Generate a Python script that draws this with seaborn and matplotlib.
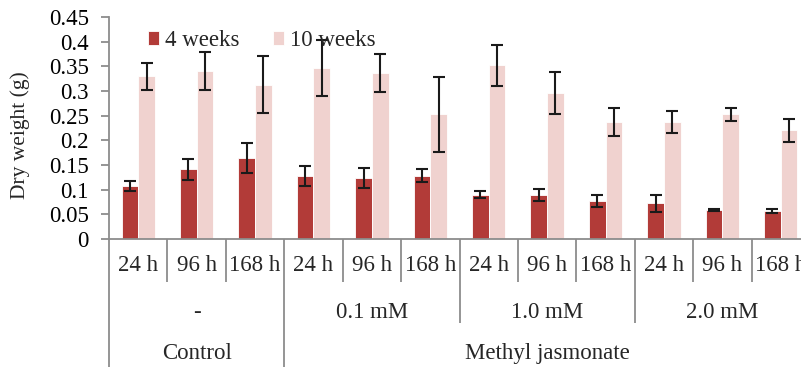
import matplotlib
matplotlib.use("Agg")
import matplotlib.pyplot as plt
import matplotlib.transforms as mtransforms
import seaborn as sns
import pandas as pd
import numpy as np

# ---- data ----
times = ["24 h", "96 h", "168 h"] * 4
concentrations = ["-", "0.1 mM", "1.0 mM", "2.0 mM"]
treatments = ["Control", "Methyl jasmonate"]
treatment_span = [1, 3]  # number of concentration groups per treatment
series = ["4 weeks", "10 weeks"]
weeks4 = [0.108, 0.141, 0.164, 0.127, 0.124, 0.128, 0.090, 0.090, 0.077, 0.072, 0.059, 0.056]
weeks4_err = [0.010, 0.021, 0.031, 0.020, 0.020, 0.013, 0.0065, 0.012, 0.012, 0.018, 0.002, 0.004]
weeks10 = [0.330, 0.341, 0.313, 0.347, 0.337, 0.253, 0.352, 0.296, 0.237, 0.237, 0.253, 0.220]
weeks10_err = [0.027, 0.039, 0.057, 0.057, 0.039, 0.076, 0.041, 0.042, 0.029, 0.022, 0.013, 0.024]
yticks = [0, 0.05, 0.1, 0.15, 0.2, 0.25, 0.3, 0.35, 0.4, 0.45]
ytick_labels = ["0", "0.05", "0.1", "0.15", "0.2", "0.25", "0.3", "0.35", "0.4", "0.45"]

colors = ["#B23B38", "#F0D2CF"]
FS = 16.5

sns.set_theme(style="white")
plt.rcParams["font.family"] = ["Liberation Serif", "DejaVu Serif"]

n = len(times)
cats = [f"c{i}" for i in range(n)]
df = pd.DataFrame({
    "cat": cats * 2,
    "series": [series[0]] * n + [series[1]] * n,
    "value": weeks4 + weeks10,
    "err": weeks4_err + weeks10_err,
})

fig = plt.figure(figsize=(8.01, 3.67), dpi=100)
W, H = 801, 367
ax = fig.add_axes([109 / W, (H - 239) / H, (810 - 109) / W, (239 - 17) / H])

sns.barplot(data=df, x="cat", y="value", hue="series", order=cats,
            hue_order=series, palette=colors, width=0.57, errorbar=None,
            edgecolor="white", linewidth=0.6, ax=ax, saturation=1)

# error bars from bar geometry
for cont, s in zip(ax.containers, series):
    sub = df[df["series"] == s]
    xs = [p.get_x() + p.get_width() / 2 for p in cont.patches]
    ax.errorbar(xs, sub["value"].values, yerr=sub["err"].values, fmt="none",
                ecolor="#1a1a1a", elinewidth=1.5, capsize=4.5, capthick=1.5, zorder=5)

ax.set_ylim(0, 0.45)
ax.set_xlim(-0.5, n - 0.5)
ax.set_yticks(yticks)
ax.set_yticklabels(ytick_labels, fontsize=FS)
ax.set_ylabel("Dry weight (g)", fontsize=15.5)
ax.yaxis.set_label_coords(-0.112, 0.47)
ax.set_xlabel("")
ax.set_xticks([])

for side in ["top", "right"]:
    ax.spines[side].set_visible(False)
for side in ["left", "bottom"]:
    ax.spines[side].set_color("#8c8c8c")
    ax.spines[side].set_linewidth(1.3)
ax.tick_params(axis="y", which="both", left=True, length=6, width=1.3,
               color="#8c8c8c", pad=8.5, labelcolor="black")

# multi-level category axis
trans = mtransforms.blended_transform_factory(ax.transData, ax.transAxes)
lvl1_y, lvl2_y, lvl3_y = -0.12, -0.33, -0.515
sep_small, sep_mid, sep_big = -0.194, -0.378, -0.62
for i, t in enumerate(times):
    ax.text(i, lvl1_y, t, transform=trans, ha="center", va="center", fontsize=FS)
# separators
for b in range(n + 1):
    x = b - 0.5
    if b % 3 != 0:
        y1 = sep_small
    elif b in (0, 3) or b == n:
        y1 = sep_big
    else:
        y1 = sep_mid
    ax.plot([x, x], [0, y1], transform=trans, color="#8c8c8c", lw=1.3,
            clip_on=False, solid_capstyle="butt")
for j, c in enumerate(concentrations):
    ax.text(3 * j + 1, lvl2_y, c, transform=trans, ha="center", va="center", fontsize=FS)
start = 0
for t, span in zip(treatments, treatment_span):
    first = start * 3
    last = (start + span) * 3 - 1
    ax.text((first + last) / 2, lvl3_y, t, transform=trans, ha="center",
            va="center", fontsize=FS)
    start += span

leg = ax.legend(loc="upper left", bbox_to_anchor=(0.042, 0.982), ncol=2, frameon=False,
                fontsize=FS, handlelength=0.5, handleheight=0.5,
                handletextpad=0.25, columnspacing=1.45, borderaxespad=0)

fig.savefig("out.png", dpi=100)
